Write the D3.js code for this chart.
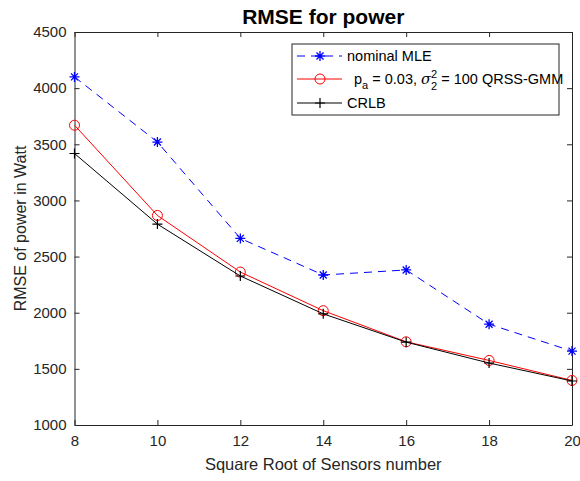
<!DOCTYPE html>
<html>
<head>
<meta charset="utf-8">
<script src="https://cdn.jsdelivr.net/npm/d3@7"></script>
<style>
body { margin: 0; background: #fff; }
text { font-family: "Liberation Sans", Arial, sans-serif; }
</style>
</head>
<body>
<svg id="chart"></svg>
<script>
// data
const sensors = [8, 10, 12, 14, 16, 18, 20];
const nominalMLE = [4100, 3520, 2662, 2336, 2381, 1898, 1658];
const qrssGMM = [3670, 2866, 2362, 2018, 1741, 1575, 1397];
const crlb = [3418, 2789, 2327, 1990, 1738, 1552, 1392];
const xTicks = [8, 10, 12, 14, 16, 18, 20];
const yTicks = [1000, 1500, 2000, 2500, 3000, 3500, 4000, 4500];

const width = 580, height = 481;
const margin = {top: 32, right: 8, bottom: 56, left: 74.5};
const svg = d3.select("#chart").attr("width", width).attr("height", height);

const x = d3.scaleLinear().domain([8, 20]).range([margin.left, width - margin.right]);
const y = d3.scaleLinear().domain([1000, 4500]).range([height - margin.bottom, margin.top]);
const axisColor = "#262626";

// axes with inward ticks, matlab style
function styleAxis(g) {
	g.select(".domain").attr("stroke", axisColor);
	g.selectAll(".tick line").attr("stroke", axisColor);
	g.selectAll(".tick text").attr("fill", axisColor).attr("font-size", 15);
}
svg.append("g")
	.attr("transform", `translate(0, ${y(1000)})`)
	.call(d3.axisBottom(x).tickValues(xTicks).tickSize(-5).tickSizeOuter(0).tickPadding(10).tickFormat(d3.format("d")))
	.call(styleAxis);
svg.append("g")
	.attr("transform", `translate(0, ${y(4500)})`)
	.call(d3.axisTop(x).tickValues(xTicks).tickSize(-5).tickSizeOuter(0).tickFormat(""))
	.call(styleAxis);
svg.append("g")
	.attr("transform", `translate(${x(8)}, 0)`)
	.call(d3.axisLeft(y).tickValues(yTicks).tickSize(-5).tickSizeOuter(0).tickPadding(8).tickFormat(d3.format("d")))
	.call(styleAxis);
svg.append("g")
	.attr("transform", `translate(${x(20)}, 0)`)
	.call(d3.axisRight(y).tickValues(yTicks).tickSize(-5).tickSizeOuter(0).tickFormat(""))
	.call(styleAxis);

// titles
svg.append("text")
	.attr("x", (x(8) + x(20)) / 2).attr("y", 23.5)
	.attr("text-anchor", "middle").attr("font-size", 21).attr("font-weight", "bold")
	.text("RMSE for power");
svg.append("text")
	.attr("x", (x(8) + x(20)) / 2).attr("y", 470)
	.attr("text-anchor", "middle").attr("font-size", 16.5).attr("fill", axisColor)
	.text("Square Root of Sensors number");
svg.append("text")
	.attr("transform", `translate(26, ${(y(1000) + y(4500)) / 2}) rotate(-90)`)
	.attr("text-anchor", "middle").attr("font-size", 16).attr("fill", axisColor)
	.text("RMSE of power in Watt");

const series = [
	{name: "nominal", values: nominalMLE, color: "#0000ff", dash: "8,6", marker: "star"},
	{name: "qrss", values: qrssGMM, color: "#ff0000", dash: null, marker: "circle"},
	{name: "crlb", values: crlb, color: "#000000", dash: null, marker: "plus"}
];

function drawMarker(g, type, color) {
	if (type === "circle") {
		g.append("circle").attr("r", 5).attr("fill", "none").attr("stroke", color).attr("stroke-width", 1);
	} else if (type === "plus") {
		g.append("path").attr("d", "M-5,0H5M0,-5V5").attr("stroke", color).attr("stroke-width", 1.2);
	} else {
		g.append("path").attr("d", "M-5,0H5M0,-5V5M-3.5,-3.5L3.5,3.5M-3.5,3.5L3.5,-3.5")
			.attr("stroke", color).attr("stroke-width", 1.3);
	}
}

const line = d3.line().x(d => x(d[0])).y(d => y(d[1]));
series.forEach(s => {
	const pts = sensors.map((v, i) => [v, s.values[i]]);
	svg.append("path")
		.datum(pts)
		.attr("fill", "none")
		.attr("stroke", s.color)
		.attr("stroke-width", 1)
		.attr("stroke-dasharray", s.dash)
		.attr("d", line);
	pts.forEach(p => {
		const g = svg.append("g").attr("transform", `translate(${x(p[0])}, ${y(p[1])})`);
		drawMarker(g, s.marker, s.color);
	});
});

// legend
const lg = svg.append("g").attr("transform", "translate(292, 44)");
lg.append("rect").attr("width", 267).attr("height", 71)
	.attr("fill", "#fff").attr("stroke", axisColor).attr("stroke-width", 1);
const rows = [
	{s: series[0], y: 12},
	{s: series[1], y: 35},
	{s: series[2], y: 59}
];
rows.forEach(r => {
	lg.append("line").attr("x1", 5).attr("x2", 50).attr("y1", r.y).attr("y2", r.y)
		.attr("stroke", r.s.color).attr("stroke-dasharray", r.s.dash);
	const m = lg.append("g").attr("transform", `translate(28, ${r.y})`);
	drawMarker(m, r.s.marker, r.s.color);
});
lg.append("text").attr("x", 55).attr("y", 12).attr("dy", "0.35em").attr("font-size", 14.5).text("nominal MLE");
const t2 = lg.append("text").attr("x", 62).attr("y", 35).attr("dy", "0.35em").attr("font-size", 14.5);
t2.append("tspan").text("p");
t2.append("tspan").attr("font-size", 11).attr("dy", 5).text("a");
t2.append("tspan").attr("dy", -5).text(" = 0.03, ");
t2.append("tspan").attr("font-style", "italic").attr("font-family", "DejaVu Serif").text("σ");
t2.append("tspan").attr("font-size", 11).attr("dy", -6).text("2");
t2.append("tspan").attr("font-size", 11).attr("dy", 12).attr("dx", -6).text("2");
t2.append("tspan").attr("dy", -6).text(" = 100 QRSS-GMM");
lg.append("text").attr("x", 55).attr("y", 59).attr("dy", "0.35em").attr("font-size", 14.5).text("CRLB");
</script>
</body>
</html>
